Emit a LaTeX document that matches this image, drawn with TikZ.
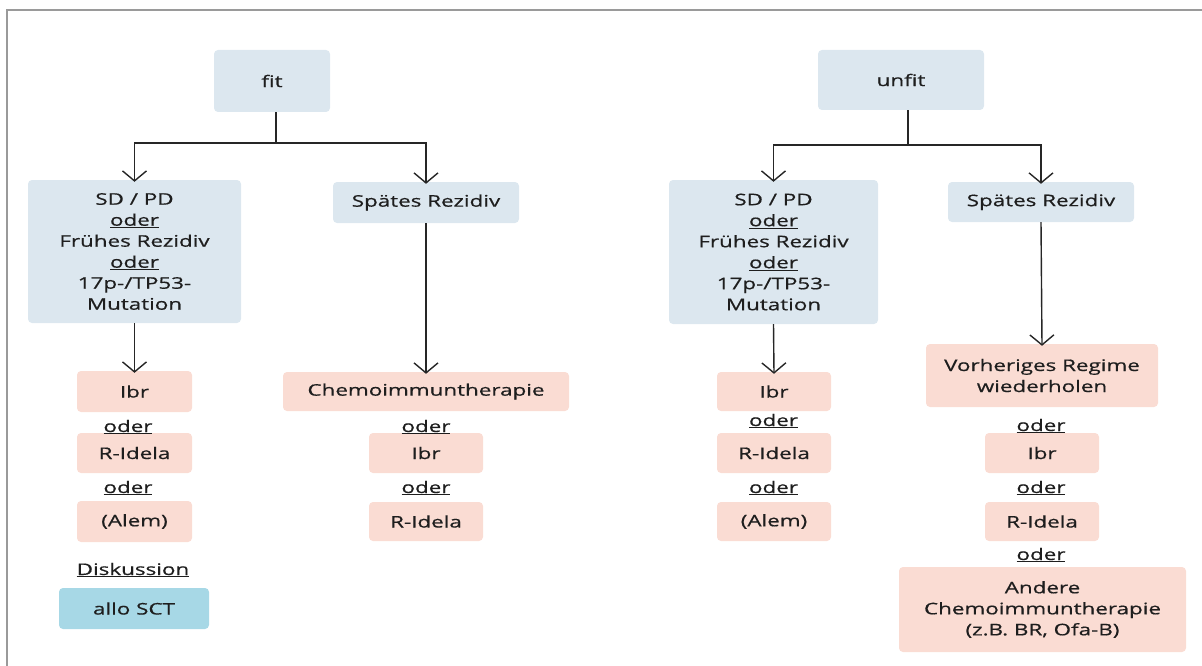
\documentclass[tikz,border=0pt]{standalone}
\usepackage{fontspec}
\setmainfont{Open Sans}[FakeStretch=1.4,FakeBold=0.6]
\usetikzlibrary{arrows.meta}
\definecolor{boxblue}{HTML}{DCE7EF}
\definecolor{boxpink}{HTML}{FADCD3}
\definecolor{boxcyan}{HTML}{A7D8E6}
\definecolor{frame}{HTML}{9A9A9A}
\definecolor{txt}{HTML}{1E1E1E}
\begin{document}
\begin{tikzpicture}[x=1pt,y=-1pt,
  every node/.style={font=\fontsize{16}{21}\selectfont, text=txt, align=center, inner sep=0pt},
  bbox/.style={fill=boxblue, rounded corners=4pt},
  pbox/.style={fill=boxpink, rounded corners=4pt},
  cbox/.style={fill=boxcyan, rounded corners=4pt},
  arr/.style={draw=black!85, line width=1.4pt, -{Straight Barb[length=10pt,width=24pt,line width=1.4pt]}},
  ln/.style={draw=black!85, line width=1.4pt}]
\useasboundingbox (0,0) rectangle (1202,666);
\draw[frame, line width=1.6pt] (7,666) -- (7,10) -- (1202,10);
% top boxes
\node[bbox, minimum width=116pt, minimum height=62pt] (fit) at (272,81) {fit};
\node[bbox, minimum width=166pt, minimum height=60pt] (unfit) at (901,80) {unfit};
% second row
\node[bbox, minimum width=213pt, minimum height=143pt] (sdL) at (134.5,251.5) {SD / PD\\\underline{oder}\\Frühes Rezidiv\\\underline{oder}\\17p-/TP53-\\Mutation};
\node[bbox, minimum width=186pt, minimum height=41pt] (spL) at (426,202.5) {Spätes Rezidiv};
\node[bbox, minimum width=209pt, minimum height=144pt] (sdR) at (773.5,252) {SD / PD\\\underline{oder}\\Frühes Rezidiv\\\underline{oder}\\17p-/TP53-\\Mutation};
\node[bbox, minimum width=186pt, minimum height=40pt] (spR) at (1041,202) {Spätes Rezidiv};
% left column
\node[pbox, minimum width=115pt, minimum height=41pt] (ibrL) at (134.5,391.5) {Ibr};
\node[pbox, minimum width=115pt, minimum height=40pt] (ridL) at (134.5,453) {R-Idela};
\node[pbox, minimum width=115pt, minimum height=41pt] (alemL) at (134.5,521.5) {(Alem)};
\node[cbox, minimum width=150pt, minimum height=41pt] (allo) at (134,608.5) {allo SCT};
% middle column
\node[pbox, minimum width=286pt, minimum height=39pt] (chemo) at (426,391.5) {Chemoimmuntherapie};
\node[pbox, minimum width=114pt, minimum height=40pt] (ibrM) at (426,453) {Ibr};
\node[pbox, minimum width=114pt, minimum height=39pt] (ridM) at (426,521.5) {R-Idela};
% right column 1
\node[pbox, minimum width=114pt, minimum height=39pt] (ibrR) at (774,391.5) {Ibr};
\node[pbox, minimum width=114pt, minimum height=40pt] (ridR) at (774,453) {R-Idela};
\node[pbox, minimum width=114pt, minimum height=39pt] (alemR) at (774,521.5) {(Alem)};
% right column 2
\node[pbox, minimum width=232pt, minimum height=63pt] (vorh) at (1042,375.5) {Vorheriges Regime\\wiederholen};
\node[pbox, minimum width=114pt, minimum height=40pt] (ibrRR) at (1042,453) {Ibr};
\node[pbox, minimum width=114pt, minimum height=39pt] (ridRR) at (1042,521.5) {R-Idela};
\node[pbox, minimum width=287pt, minimum height=85pt] (andere) at (1042.5,609.5) {Andere\\Chemoimmuntherapie\\(z.B. BR, Ofa-B)};
% oder labels
\node (o1) at (128,427) {\underline{oder}};
\node (o2) at (128,488) {\underline{oder}};
\node (disk) at (133,570) {\underline{Diskussion}};
\node (o3) at (426,427) {\underline{oder}};
\node (o4) at (426,488) {\underline{oder}};
\node (o5) at (773.5,421) {\underline{oder}};
\node (o6) at (773.5,488) {\underline{oder}};
\node (o7) at (1041,426) {\underline{oder}};
\node (o8) at (1041,488) {\underline{oder}};
\node (o9) at (1041,555) {\underline{oder}};
% connectors
\coordinate (jf) at (276,143);
\coordinate (ju) at (908,145);
\draw[ln] (fit.south -| jf) -- (jf);
\draw[arr] (jf) -| ([yshift=-2pt]sdL.north);
\draw[arr] (jf) -| ([yshift=-2pt]spL.north);
\draw[ln] (unfit.south -| ju) -- (ju);
\draw[arr] (ju) -| ([yshift=-2pt]sdR.north);
\draw[arr] (ju) -| ([yshift=-2pt]spR.north);
\draw[arr] (sdL.south) -- ([yshift=-2pt]ibrL.north);
\draw[arr] (spL.south) -- ([yshift=-2pt]chemo.north);
\draw[arr] (sdR.south) -- ([yshift=-2pt]ibrR.north);
\draw[arr] (spR.south) -- ([yshift=-2pt]vorh.north);
\end{tikzpicture}
\end{document}
